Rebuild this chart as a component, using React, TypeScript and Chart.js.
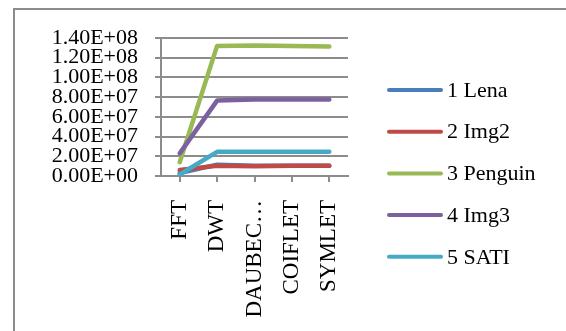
import React, { useEffect, useRef } from "react";
import { Chart, registerables } from "chart.js";

Chart.register(...registerables);

const categories = ["FFT", "DWT", "DAUBEC…", "COIFLET", "SYMLET"];
const seriesNames = ["1 Lena", "2 Img2", "3 Penguin", "4 Img3", "5 SATI"];
const lenaValues = [3.0e6, 1.15e7, 1.05e7, 1.05e7, 1.05e7];
const img2Values = [6.0e6, 1.05e7, 1.0e7, 1.05e7, 1.05e7];
const penguinValues = [1.4e7, 1.32e8, 1.325e8, 1.32e8, 1.315e8];
const img3Values = [2.3e7, 7.65e7, 7.75e7, 7.75e7, 7.75e7];
const satiValues = [1.5e6, 2.45e7, 2.45e7, 2.45e7, 2.45e7];
const seriesColors = ["#4a7ebb", "#be4b48", "#98b954", "#7d60a0", "#46aac5"];
const yMin = 0;
const yMax = 1.4e8;
const yStep = 2e7;

const FONT = "'Liberation Serif', 'Times New Roman', serif";

const legendPlugin = {
  id: "sideLegend",
  afterDraw(chart: any) {
    const ctx = chart.ctx;
    ctx.save();
    chart.data.datasets.forEach((ds: any, i: number) => {
      const y = 90 + i * 41.7;
      ctx.strokeStyle = ds.borderColor;
      ctx.lineWidth = 4;
      ctx.lineCap = "round";
      ctx.beginPath();
      ctx.moveTo(389, y);
      ctx.lineTo(441, y);
      ctx.stroke();
      ctx.fillStyle = "#000";
      ctx.font = `22px ${FONT}`;
      ctx.textBaseline = "middle";
      ctx.textAlign = "left";
      ctx.fillText(ds.label, 447, y + 1);
    });
    ctx.restore();
  },
};

export default function App() {
  const ref = useRef<HTMLCanvasElement | null>(null);
  useEffect(() => {
    if (!ref.current) return;
    const all = [lenaValues, img2Values, penguinValues, img3Values, satiValues];
    const chart = new Chart(ref.current, {
      type: "line",
      data: {
        labels: categories,
        datasets: all.map((vals, i) => ({
          label: seriesNames[i],
          data: vals,
          borderColor: seriesColors[i],
          backgroundColor: seriesColors[i],
          borderWidth: 4.5,
          borderCapStyle: "round" as const,
          borderJoinStyle: "round" as const,
          pointRadius: 0,
          tension: 0,
          order: all.length - i,
        })),
      },
      options: {
        responsive: false,
        animation: false,
        layout: { padding: { top: 38, right: 218, left: 0, bottom: 0 } },
        plugins: { legend: { display: false }, tooltip: { enabled: false } },
        scales: {
          x: {
            offset: true,
            afterFit: (s: any) => {
              s.height = 155;
            },
            grid: {
              drawOnChartArea: false,
              drawTicks: true,
              tickLength: 6,
              color: "#8c8c8c",
              lineWidth: 2,
            },
            border: { color: "#8c8c8c", width: 2 },
            ticks: {
              minRotation: 90,
              maxRotation: 90,
              autoSkip: false,
              padding: 18,
              color: "#000",
              font: { family: FONT, size: 23 },
            },
          },
          y: {
            min: yMin,
            max: yMax,
            afterFit: (s: any) => {
              s.width = 161;
            },
            grid: {
              color: "#8c8c8c",
              lineWidth: 2,
              tickLength: 6,
            },
            border: { color: "#8c8c8c", width: 2 },
            ticks: {
              stepSize: yStep,
              autoSkip: false,
              padding: 17,
              color: "#000",
              font: { family: FONT, size: 22, lineHeight: 1 },
              callback: (v: any) =>
                Number(v)
                  .toExponential(2)
                  .toUpperCase()
                  .replace(/E([+-])(\d)$/, "E$10$2"),
            },
          },
        },
      },
      plugins: [legendPlugin],
    });
    return () => chart.destroy();
  }, []);

  return (
    <div style={{ position: "absolute", left: 0, top: 0, width: 566, height: 331, background: "#fff" }}>
      <div
        style={{
          position: "absolute",
          left: 13,
          top: 8,
          right: 0,
          bottom: 0,
          borderLeft: "2.5px solid #8c8c8c",
          borderTop: "2px solid #8c8c8c",
        }}
      />
      <canvas ref={ref} width={566} height={331} style={{ position: "absolute", left: 0, top: 0 }} />
    </div>
  );
}
